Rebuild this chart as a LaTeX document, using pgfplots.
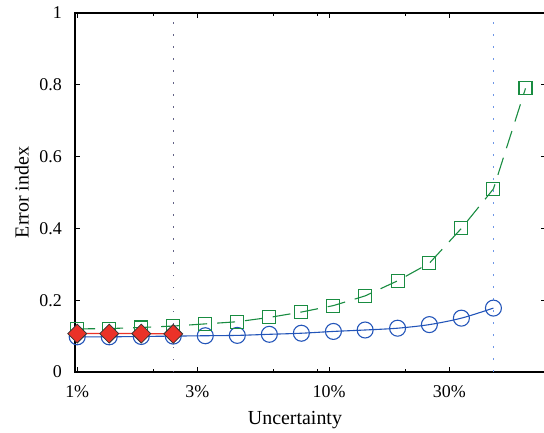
\documentclass[border=0pt]{standalone}
\usepackage{pgfplots}
\pgfplotsset{compat=1.18}
\usepackage{fontspec}
\setmainfont{Liberation Serif}

\definecolor{cblue}{RGB}{35,85,185}
\definecolor{cgreen}{RGB}{25,140,65}
\definecolor{cred}{RGB}{235,50,40}
\definecolor{cgray}{RGB}{100,100,135}
\definecolor{clblue}{RGB}{110,150,230}

\begin{document}
\fontsize{18}{22}\selectfont
\begin{tikzpicture}
\begin{axis}[
  scale only axis, width=471bp, height=359bp,
  xmode=log, xmin=0.0098, xmax=0.726, ymin=0, ymax=1,
  xtick={0.01,0.03,0.1,0.3}, xticklabels={1\%,3\%,10\%,30\%},
  minor xtick={0.02,0.06,0.09,0.2},
  ytick={0,0.2,0.4,0.6,0.8,1}, yticklabels={0,0.2,0.4,0.6,0.8,1},
  yticklabel style={xshift=-7bp},
  xticklabel style={yshift=-7bp},
  tick style={black, line width=0.8pt},
  major tick length=5bp, minor tick length=3bp,
  axis line style={black, line width=1.3pt},
  font=\fontsize{18}{22}\selectfont,
  xlabel={Uncertainty}, ylabel={Error index},
  xlabel style={at={(axis description cs:0.467,-0.133)}, anchor=center, font=\fontsize{20}{24}\selectfont},
  ylabel style={at={(axis description cs:-0.113,0.5)}, anchor=center, font=\fontsize{20}{24}\selectfont},
]
\coordinate (sw) at (rel axis cs:0,0);
\addplot[cgray, line width=1.5bp, dash pattern=on 1.5bp off 10.5bp] coordinates {(0.02406,0) (0.02406,1)};
\addplot[clblue, line width=1.6bp, dash pattern=on 1.6bp off 10.4bp] coordinates {(0.449,0) (0.449,1)};
\addplot[cblue, line width=1.1pt, smooth, mark=o, mark size=8bp, mark options={solid, line width=1.1pt}] coordinates {
(0.01,0.098) (0.0134,0.098) (0.01796,0.099) (0.02406,0.100) (0.03224,0.101)
(0.0432,0.102) (0.0579,0.105) (0.0776,0.108) (0.104,0.113) (0.139,0.117)
(0.187,0.122) (0.250,0.132) (0.335,0.150) (0.449,0.178)};
\addplot[cgreen, line width=1.1pt, dash pattern=on 18bp off 10bp, mark=square, mark size=6.5bp, mark options={solid, line width=1.1pt}] coordinates {
(0.01,0.120) (0.0134,0.121) (0.01796,0.124) (0.02406,0.128) (0.03224,0.134)
(0.0432,0.140) (0.0579,0.152) (0.0776,0.167) (0.104,0.185) (0.139,0.212)
(0.187,0.254) (0.250,0.303) (0.335,0.400) (0.449,0.510) (0.602,0.790)};
\addplot[cred, line width=1.3pt, mark=square*, mark size=6.7bp, mark options={rotate=45, fill=cred, draw=black!80, line width=0.8pt}] coordinates {
(0.01,0.107) (0.0134,0.107) (0.01796,0.107) (0.02406,0.106)};
\end{axis}
\pgfresetboundingbox
\path (sw) ++(-75bp,-61bp) rectangle ++(544bp,433bp);
\end{tikzpicture}
\end{document}
